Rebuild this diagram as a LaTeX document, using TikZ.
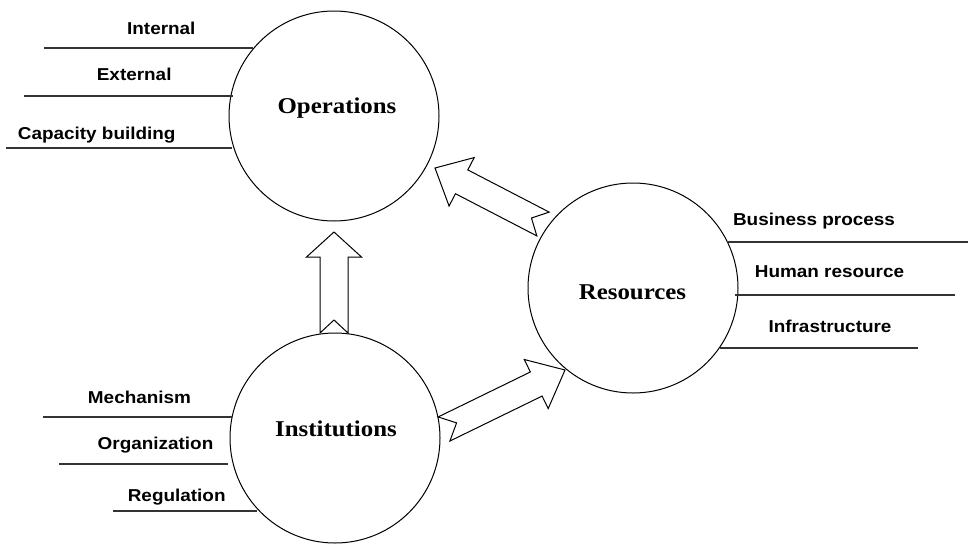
\documentclass[tikz,border=0pt]{standalone}
\usepackage{fontspec}
\usetikzlibrary{calc}
\newfontfamily\labfont{Liberation Sans}[FakeStretch=1.1]
\newfontfamily\titfont{Liberation Serif}[FakeStretch=1.1]
\tikzset{
  circ/.style={draw, circle, line width=1pt, minimum size=210pt, inner sep=0pt},
  title/.style={anchor=base, inner sep=0pt, font=\titfont\bfseries\fontsize{22.6}{26}\selectfont},
  lab/.style={anchor=base, inner sep=0pt, font=\labfont\bfseries\fontsize{17.2}{20}\selectfont},
  uline/.style={draw=black!80, line width=1.3pt},
  barrow/.style={draw, line width=1pt, fill=white, line join=miter}
}
\newcommand\blockarrow[6]{%
  \path ($(#2)!#5!(#1)$) coordinate (ba-b) ($(#1)!#6!(#2)$) coordinate (ba-n);
  \draw[barrow] (ba-n) -- ($(#1)!#3!90:(#2)$) -- ($(ba-b)!#3!90:(#2)$) -- ($(ba-b)!#4!90:(#2)$) -- (#2)
    -- ($(ba-b)!#4!-90:(#2)$) -- ($(ba-b)!#3!-90:(#2)$) -- ($(#1)!#3!-90:(#2)$) -- cycle;
}
\begin{document}
\begin{tikzpicture}[x=1pt,y=-1pt]
\useasboundingbox (0,0) rectangle (968,544);
% circles
\node[circ] (ops) at (334,116) {};
\node[circ] (res) at (633,288) {};
\node[circ] (ins) at (335,438) {};
% titles
\node[title] (opsT) at (337,113.3) {Operations};
\node[title] (resT) at (632.5,299.3) {Resources};
\node[title] (insT) at (336,436) {Institutions};
% operations labels
\node[lab] (l1) at (161.3,34) {Internal};
\node[lab] (l2) at (134.2,80.7) {External};
\node[lab] (l3) at (96.7,139.3) {Capacity building};
\coordinate (l1a) at (44,48);  \coordinate (l1b) at (253,48);
\coordinate (l2a) at (24,96);  \coordinate (l2b) at (233,96);
\coordinate (l3a) at (6,148);  \coordinate (l3b) at (232,148);
\draw[uline] (l1a) -- (l1b);
\draw[uline] (l2a) -- (l2b);
\draw[uline] (l3a) -- (l3b);
% resources labels
\node[lab] (r1) at (814,225) {Business process};
\node[lab] (r2) at (829.5,277.3) {Human resource};
\node[lab] (r3) at (830,332.3) {Infrastructure};
\coordinate (r1a) at (727,242); \coordinate (r1b) at (968,242);
\coordinate (r2a) at (735,295); \coordinate (r2b) at (955,295);
\coordinate (r3a) at (720,348); \coordinate (r3b) at (918,348);
\draw[uline] (r1a) -- (r1b);
\draw[uline] (r2a) -- (r2b);
\draw[uline] (r3a) -- (r3b);
% institutions labels
\node[lab] (i1) at (139.5,403.3) {Mechanism};
\node[lab] (i2) at (155.5,449.3) {Organization};
\node[lab] (i3) at (176.7,501.7) {Regulation};
\coordinate (i1a) at (43,417);  \coordinate (i1b) at (232,417);
\coordinate (i2a) at (59,464);  \coordinate (i2b) at (228,464);
\coordinate (i3a) at (113,511); \coordinate (i3b) at (257,511);
\draw[uline] (i1a) -- (i1b);
\draw[uline] (i2a) -- (i2b);
\draw[uline] (i3a) -- (i3b);
% block arrows
\coordinate (a1t) at (334,333); \coordinate (a1h) at (334,232);
\coordinate (a2t) at (543,224); \coordinate (a2h) at (435,168);
\coordinate (a3t) at (444,429); \coordinate (a3h) at (565,370);
\blockarrow{a1t}{a1h}{14pt}{27.5pt}{25pt}{13pt}
\blockarrow{a2t}{a2h}{13.4pt}{27.3pt}{30pt}{13pt}
\blockarrow{a3t}{a3h}{13.4pt}{27.3pt}{32pt}{14pt}
\end{tikzpicture}
\end{document}
